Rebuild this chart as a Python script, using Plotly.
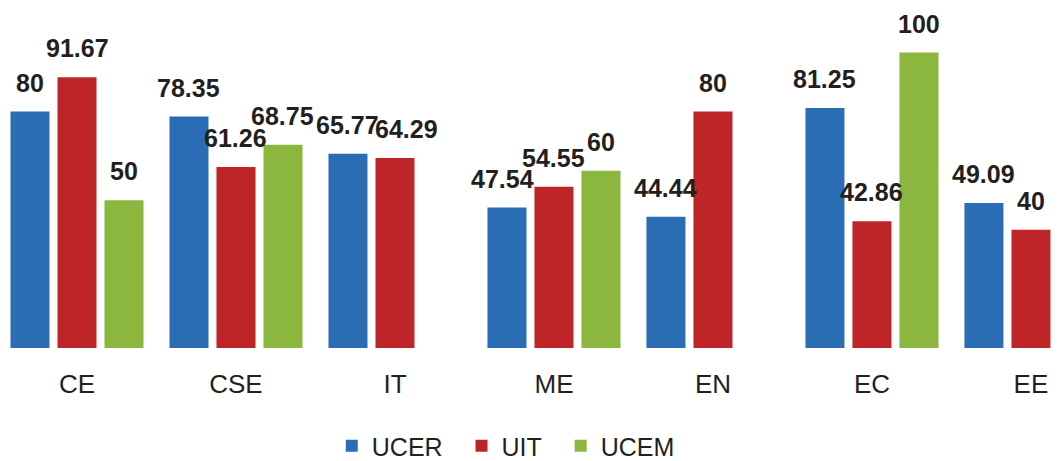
import plotly.graph_objects as go

categories = ["CE", "CSE", "IT", "ME", "EN", "EC", "EE"]
series_names = ["UCER", "UIT", "UCEM"]
legend_names = ["UCER\u00a0\u00a0", "UIT\u00a0\u00a0", "UCEM"]
ucer = [80, 78.35, 65.77, 47.54, 44.44, 81.25, 49.09]
uit = [91.67, 61.26, 64.29, 54.55, 80, 42.86, 40]
ucem = [50, 68.75, None, 60, None, 100, None]
colors = ["#2A6DB5", "#BE2528", "#8CB73E"]

# small horizontal nudges of value labels, as in the reference (pixels)
label_nudge = {("UIT", "IT"): 12, ("UCER", "ME"): -4}

W, H = 1060, 461
# the page body adds an 8px offset; ranges compensate for it
x_range = [-0.434, 6.233]
bargap = 0.113
bargroupgap = 0.17
px_per_cat = W / (x_range[1] - x_range[0])
slot_px = px_per_cat * (1 - bargap) / 3

fig = go.Figure()
all_series = [ucer, uit, ucem]
annotations = []
for i, (name, lname, vals, col) in enumerate(zip(series_names, legend_names, all_series, colors)):
    fig.add_trace(go.Bar(
        name=lname, x=categories, y=vals, marker=dict(color=col, line=dict(width=0)),
        hovertemplate=name + " %{x}: %{y}<extra></extra>",
    ))
    shift = (i - 1) * slot_px
    for c, v in zip(categories, vals):
        if v is None:
            continue
        annotations.append(dict(
            x=c, y=v, xref="x", yref="y", text="<b>%s</b>" % (f"{v:g}"),
            showarrow=False, xshift=shift + label_nudge.get((name, c), 0),
            yshift=13, yanchor="bottom",
            font=dict(family="Liberation Sans, Arial, sans-serif", size=25, color="#231F20"),
        ))

fig.update_layout(
    width=W, height=H,
    barmode="group", bargap=bargap, bargroupgap=bargroupgap,
    plot_bgcolor="white", paper_bgcolor="white",
    margin=dict(l=0, r=0, t=0, b=112),
    font=dict(family="Liberation Sans, Arial, sans-serif", size=25, color="#231F20"),
    xaxis=dict(type="category", range=x_range, showgrid=False, zeroline=False,
               showline=False, ticks="", ticklabelstandoff=18,
               tickfont=dict(size=26)),
    yaxis=dict(range=[0, 115.07], showgrid=False, zeroline=False, showline=False,
               showticklabels=False, ticks=""),
    legend=dict(orientation="h", x=0.4696, xanchor="center", y=-0.289, yanchor="middle",
                font=dict(size=25), itemwidth=30),
    annotations=annotations,
    showlegend=True,
)

fig.write_html("out.html")
